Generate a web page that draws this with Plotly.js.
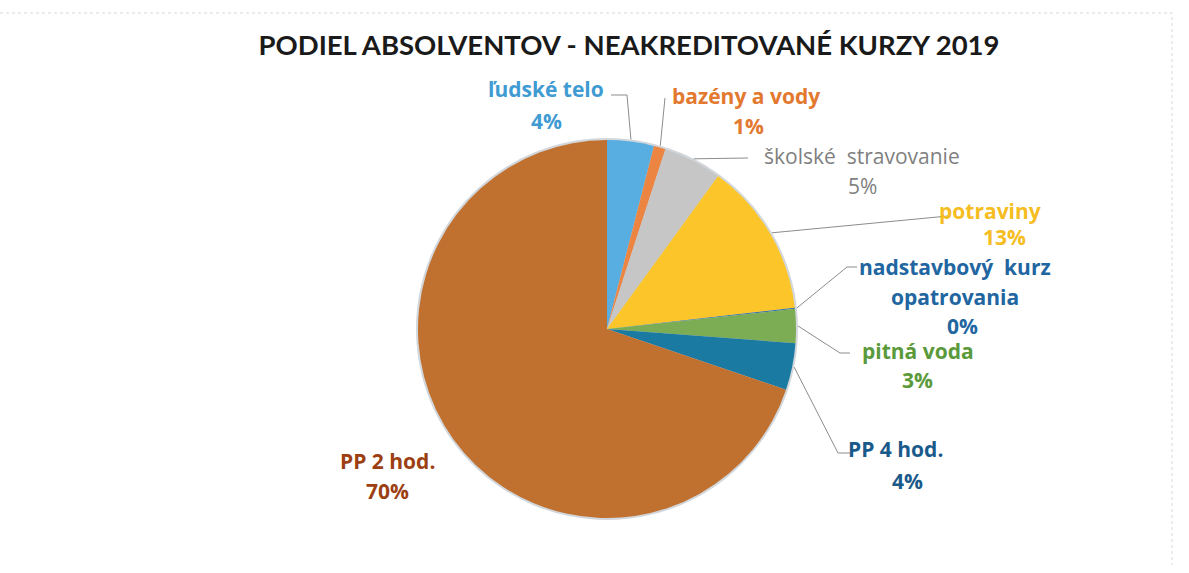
<!DOCTYPE html>
<html>
<head>
<meta charset="utf-8">
<script src="https://cdn.plot.ly/plotly-3.0.1.min.js"></script>
<style>html,body{margin:0;padding:0;background:#fff;}#chart{width:1189px;height:573px;}</style>
</head>
<body>
<div id="chart"></div>
<script>
// ---- data ----
const categories = ["ľudské telo", "bazény a vody", "školské stravovanie", "potraviny",
  "nadstavbový kurz opatrovania", "pitná voda", "PP 4 hod.", "PP 2 hod."];
const labelLines = [["ľudské telo"], ["bazény a vody"], ["školské  stravovanie"], ["potraviny"],
  ["nadstavbový  kurz", "opatrovania"], ["pitná voda"], ["PP 4 hod."], ["PP 2 hod."]];
const shares = [4.0, 1.0, 5.0, 13.2, 0.1, 2.9, 4.0, 69.8];
const sliceColors = ["#58aee0", "#ed8542", "#c6c6c6", "#fcc62a", "#2e6fa8", "#7cad55", "#1b7aa2", "#c0702f"];
const textColors = ["#3f9bd2", "#e3782f", "#7f7f7f", "#f5bd1f", "#2166a0", "#5b9a3a", "#1a5a8a", "#9c3f12"];
const titleText = "PODIEL ABSOLVENTOV - NEAKREDITOVANÉ KURZY 2019";

// ---- layout geometry (pixels) ----
const W = 1189, H = 573;
const cx = 607, cy = 329, r = 189;
const labelPos = [[546, 89], [746, 96], [862, 156], [990, 211], [955, 267], [918, 351], [895, 449], [387, 461]];
const pctPos   = [[546, 121], [748, 126], [862, 186], [1004, 237], [962, 326], [917, 380], [907, 481], [387, 491]];
const lineStep = 30;
const leaders = [
  [[627, 95], [611, 95]],
  [[665, 98]],
  [[748, 158]],
  [[948, 216]],
  [[847, 267], [857, 267]],
  [[840, 353], [850, 353]],
  [[838, 453], [850, 453]],
  null
];

const px = x => x / W;
const py = y => (H - y) / H;

const total = shares.reduce((a, b) => a + b, 0);
let cum = 0;
const midAngles = shares.map(v => { const a = (cum + v / 2) / total * 2 * Math.PI; cum += v; return a; });

const labelFont = "'Open Sans', Lato, sans-serif";
const annotations = [];
const shapes = [];
shapes.push({type: "circle", xref: "paper", yref: "paper", layer: "below",
  x0: px(cx - r - 2), x1: px(cx + r + 2), y0: py(cy + r + 2), y1: py(cy - r - 2),
  fillcolor: "#d2d7dc", line: {width: 0}});
shapes.push({type: "path", xref: "paper", yref: "paper", layer: "below",
  path: `M 0 ${py(13)} L ${px(1172)} ${py(13)} L ${px(1172)} ${py(565)}`,
  line: {color: "#d8d8d8", width: 1, dash: "dot"}});

categories.forEach((c, i) => {
  const lines = labelLines[i];
  const isBold = i !== 2;
  const f = {family: labelFont, size: 21, color: textColors[i], weight: isBold ? 700 : 400};
  lines.forEach((t, k) => {
    annotations.push({xref: "paper", yref: "paper", x: px(labelPos[i][0]), y: py(labelPos[i][1] + k * lineStep),
      text: t, showarrow: false, xanchor: "center", yanchor: "middle", font: f});
  });
  const pct = Math.round(shares[i] / total * 100) + "%";
  annotations.push({xref: "paper", yref: "paper", x: px(pctPos[i][0]), y: py(pctPos[i][1]),
    text: pct, showarrow: false, xanchor: "center", yanchor: "middle", font: f});
  if (leaders[i]) {
    const a = midAngles[i];
    const ex = cx + (r + 2) * Math.sin(a), ey = cy - (r + 2) * Math.cos(a);
    let p = `M ${px(ex)} ${py(ey)}`;
    leaders[i].forEach(q => { p += ` L ${px(q[0])} ${py(q[1])}`; });
    shapes.push({type: "path", xref: "paper", yref: "paper", path: p, line: {color: "#8c8c8c", width: 1}});
  }
});

const trace = {
  type: "pie",
  labels: categories,
  values: shares,
  sort: false,
  direction: "clockwise",
  rotation: 0,
  textinfo: "none",
  marker: {colors: sliceColors, line: {width: 0}},
  domain: {x: [px(cx - r), px(cx + r)], y: [py(cy + r), py(cy - r)]},
  showlegend: false,
  hovertemplate: "%{label}: %{percent}<extra></extra>"
};

const layout = {
  width: W, height: H,
  margin: {l: 0, r: 0, t: 0, b: 0},
  paper_bgcolor: "#ffffff",
  title: {text: "<b>" + titleText + "</b>", x: 629 / W, xanchor: "center", y: py(45), yanchor: "middle",
    font: {family: "Lato, 'Open Sans', sans-serif", size: 27.5, color: "#1a1a1a"}},
  annotations: annotations,
  shapes: shapes,
  showlegend: false
};

Plotly.newPlot("chart", [trace], layout, {displayModeBar: false, staticPlot: true});
</script>
</body>
</html>
